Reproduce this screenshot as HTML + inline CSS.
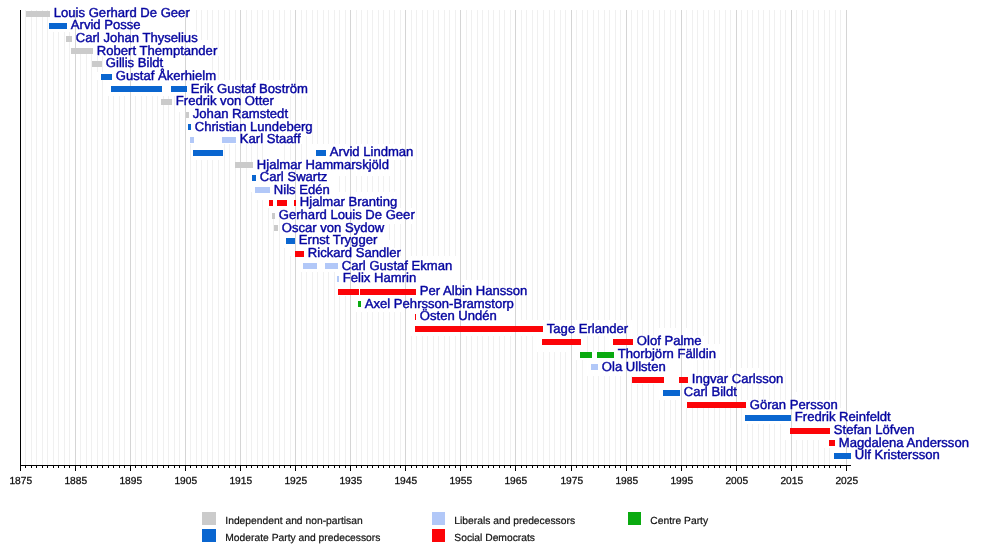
<!DOCTYPE html><html><head><meta charset="utf-8"><title>Prime Ministers of Sweden</title>
<style>html,body{margin:0;padding:0;background:#fff}svg{display:block}text{text-rendering:geometricPrecision;font-family:"Liberation Sans",sans-serif}.n{font-size:13.08px;fill:#0606a0;stroke:#0606a0;stroke-width:0.42px}.a{font-size:10.2px;fill:#0c0c0c;stroke:#0c0c0c;stroke-width:0.25px;text-anchor:middle}.l{font-size:10.3px;fill:#111;stroke:#111;stroke-width:0.2px}</style></head><body>
<svg width="1000" height="545" viewBox="0 0 1000 545" shape-rendering="crispEdges">
<rect width="1000" height="545" fill="#fff"/>
<rect x="25" y="10" width="1" height="455" fill="#f0f0f0"/>
<rect x="31" y="10" width="1" height="455" fill="#f0f0f0"/>
<rect x="36" y="10" width="1" height="455" fill="#f0f0f0"/>
<rect x="42" y="10" width="1" height="455" fill="#f0f0f0"/>
<rect x="47" y="10" width="1" height="455" fill="#f0f0f0"/>
<rect x="53" y="10" width="1" height="455" fill="#f0f0f0"/>
<rect x="58" y="10" width="1" height="455" fill="#f0f0f0"/>
<rect x="64" y="10" width="1" height="455" fill="#f0f0f0"/>
<rect x="69" y="10" width="1" height="455" fill="#f0f0f0"/>
<rect x="80" y="10" width="1" height="455" fill="#f0f0f0"/>
<rect x="86" y="10" width="1" height="455" fill="#f0f0f0"/>
<rect x="91" y="10" width="1" height="455" fill="#f0f0f0"/>
<rect x="97" y="10" width="1" height="455" fill="#f0f0f0"/>
<rect x="102" y="10" width="1" height="455" fill="#f0f0f0"/>
<rect x="108" y="10" width="1" height="455" fill="#f0f0f0"/>
<rect x="113" y="10" width="1" height="455" fill="#f0f0f0"/>
<rect x="119" y="10" width="1" height="455" fill="#f0f0f0"/>
<rect x="124" y="10" width="1" height="455" fill="#f0f0f0"/>
<rect x="135" y="10" width="1" height="455" fill="#f0f0f0"/>
<rect x="141" y="10" width="1" height="455" fill="#f0f0f0"/>
<rect x="146" y="10" width="1" height="455" fill="#f0f0f0"/>
<rect x="152" y="10" width="1" height="455" fill="#f0f0f0"/>
<rect x="157" y="10" width="1" height="455" fill="#f0f0f0"/>
<rect x="163" y="10" width="1" height="455" fill="#f0f0f0"/>
<rect x="168" y="10" width="1" height="455" fill="#f0f0f0"/>
<rect x="174" y="10" width="1" height="455" fill="#f0f0f0"/>
<rect x="179" y="10" width="1" height="455" fill="#f0f0f0"/>
<rect x="190" y="10" width="1" height="455" fill="#f0f0f0"/>
<rect x="196" y="10" width="1" height="455" fill="#f0f0f0"/>
<rect x="201" y="10" width="1" height="455" fill="#f0f0f0"/>
<rect x="207" y="10" width="1" height="455" fill="#f0f0f0"/>
<rect x="212" y="10" width="1" height="455" fill="#f0f0f0"/>
<rect x="218" y="10" width="1" height="455" fill="#f0f0f0"/>
<rect x="224" y="10" width="1" height="455" fill="#f0f0f0"/>
<rect x="229" y="10" width="1" height="455" fill="#f0f0f0"/>
<rect x="235" y="10" width="1" height="455" fill="#f0f0f0"/>
<rect x="246" y="10" width="1" height="455" fill="#f0f0f0"/>
<rect x="251" y="10" width="1" height="455" fill="#f0f0f0"/>
<rect x="257" y="10" width="1" height="455" fill="#f0f0f0"/>
<rect x="262" y="10" width="1" height="455" fill="#f0f0f0"/>
<rect x="268" y="10" width="1" height="455" fill="#f0f0f0"/>
<rect x="273" y="10" width="1" height="455" fill="#f0f0f0"/>
<rect x="279" y="10" width="1" height="455" fill="#f0f0f0"/>
<rect x="284" y="10" width="1" height="455" fill="#f0f0f0"/>
<rect x="290" y="10" width="1" height="455" fill="#f0f0f0"/>
<rect x="301" y="10" width="1" height="455" fill="#f0f0f0"/>
<rect x="306" y="10" width="1" height="455" fill="#f0f0f0"/>
<rect x="312" y="10" width="1" height="455" fill="#f0f0f0"/>
<rect x="317" y="10" width="1" height="455" fill="#f0f0f0"/>
<rect x="323" y="10" width="1" height="455" fill="#f0f0f0"/>
<rect x="328" y="10" width="1" height="455" fill="#f0f0f0"/>
<rect x="334" y="10" width="1" height="455" fill="#f0f0f0"/>
<rect x="339" y="10" width="1" height="455" fill="#f0f0f0"/>
<rect x="345" y="10" width="1" height="455" fill="#f0f0f0"/>
<rect x="356" y="10" width="1" height="455" fill="#f0f0f0"/>
<rect x="361" y="10" width="1" height="455" fill="#f0f0f0"/>
<rect x="367" y="10" width="1" height="455" fill="#f0f0f0"/>
<rect x="372" y="10" width="1" height="455" fill="#f0f0f0"/>
<rect x="378" y="10" width="1" height="455" fill="#f0f0f0"/>
<rect x="383" y="10" width="1" height="455" fill="#f0f0f0"/>
<rect x="389" y="10" width="1" height="455" fill="#f0f0f0"/>
<rect x="394" y="10" width="1" height="455" fill="#f0f0f0"/>
<rect x="400" y="10" width="1" height="455" fill="#f0f0f0"/>
<rect x="411" y="10" width="1" height="455" fill="#f0f0f0"/>
<rect x="416" y="10" width="1" height="455" fill="#f0f0f0"/>
<rect x="422" y="10" width="1" height="455" fill="#f0f0f0"/>
<rect x="427" y="10" width="1" height="455" fill="#f0f0f0"/>
<rect x="433" y="10" width="1" height="455" fill="#f0f0f0"/>
<rect x="438" y="10" width="1" height="455" fill="#f0f0f0"/>
<rect x="444" y="10" width="1" height="455" fill="#f0f0f0"/>
<rect x="449" y="10" width="1" height="455" fill="#f0f0f0"/>
<rect x="455" y="10" width="1" height="455" fill="#f0f0f0"/>
<rect x="466" y="10" width="1" height="455" fill="#f0f0f0"/>
<rect x="471" y="10" width="1" height="455" fill="#f0f0f0"/>
<rect x="477" y="10" width="1" height="455" fill="#f0f0f0"/>
<rect x="482" y="10" width="1" height="455" fill="#f0f0f0"/>
<rect x="488" y="10" width="1" height="455" fill="#f0f0f0"/>
<rect x="493" y="10" width="1" height="455" fill="#f0f0f0"/>
<rect x="499" y="10" width="1" height="455" fill="#f0f0f0"/>
<rect x="504" y="10" width="1" height="455" fill="#f0f0f0"/>
<rect x="510" y="10" width="1" height="455" fill="#f0f0f0"/>
<rect x="521" y="10" width="1" height="455" fill="#f0f0f0"/>
<rect x="526" y="10" width="1" height="455" fill="#f0f0f0"/>
<rect x="532" y="10" width="1" height="455" fill="#f0f0f0"/>
<rect x="537" y="10" width="1" height="455" fill="#f0f0f0"/>
<rect x="543" y="10" width="1" height="455" fill="#f0f0f0"/>
<rect x="549" y="10" width="1" height="455" fill="#f0f0f0"/>
<rect x="554" y="10" width="1" height="455" fill="#f0f0f0"/>
<rect x="560" y="10" width="1" height="455" fill="#f0f0f0"/>
<rect x="565" y="10" width="1" height="455" fill="#f0f0f0"/>
<rect x="576" y="10" width="1" height="455" fill="#f0f0f0"/>
<rect x="582" y="10" width="1" height="455" fill="#f0f0f0"/>
<rect x="587" y="10" width="1" height="455" fill="#f0f0f0"/>
<rect x="593" y="10" width="1" height="455" fill="#f0f0f0"/>
<rect x="598" y="10" width="1" height="455" fill="#f0f0f0"/>
<rect x="604" y="10" width="1" height="455" fill="#f0f0f0"/>
<rect x="609" y="10" width="1" height="455" fill="#f0f0f0"/>
<rect x="615" y="10" width="1" height="455" fill="#f0f0f0"/>
<rect x="620" y="10" width="1" height="455" fill="#f0f0f0"/>
<rect x="631" y="10" width="1" height="455" fill="#f0f0f0"/>
<rect x="637" y="10" width="1" height="455" fill="#f0f0f0"/>
<rect x="642" y="10" width="1" height="455" fill="#f0f0f0"/>
<rect x="648" y="10" width="1" height="455" fill="#f0f0f0"/>
<rect x="653" y="10" width="1" height="455" fill="#f0f0f0"/>
<rect x="659" y="10" width="1" height="455" fill="#f0f0f0"/>
<rect x="664" y="10" width="1" height="455" fill="#f0f0f0"/>
<rect x="670" y="10" width="1" height="455" fill="#f0f0f0"/>
<rect x="675" y="10" width="1" height="455" fill="#f0f0f0"/>
<rect x="686" y="10" width="1" height="455" fill="#f0f0f0"/>
<rect x="692" y="10" width="1" height="455" fill="#f0f0f0"/>
<rect x="697" y="10" width="1" height="455" fill="#f0f0f0"/>
<rect x="703" y="10" width="1" height="455" fill="#f0f0f0"/>
<rect x="708" y="10" width="1" height="455" fill="#f0f0f0"/>
<rect x="714" y="10" width="1" height="455" fill="#f0f0f0"/>
<rect x="719" y="10" width="1" height="455" fill="#f0f0f0"/>
<rect x="725" y="10" width="1" height="455" fill="#f0f0f0"/>
<rect x="730" y="10" width="1" height="455" fill="#f0f0f0"/>
<rect x="741" y="10" width="1" height="455" fill="#f0f0f0"/>
<rect x="747" y="10" width="1" height="455" fill="#f0f0f0"/>
<rect x="752" y="10" width="1" height="455" fill="#f0f0f0"/>
<rect x="758" y="10" width="1" height="455" fill="#f0f0f0"/>
<rect x="763" y="10" width="1" height="455" fill="#f0f0f0"/>
<rect x="769" y="10" width="1" height="455" fill="#f0f0f0"/>
<rect x="774" y="10" width="1" height="455" fill="#f0f0f0"/>
<rect x="780" y="10" width="1" height="455" fill="#f0f0f0"/>
<rect x="785" y="10" width="1" height="455" fill="#f0f0f0"/>
<rect x="796" y="10" width="1" height="455" fill="#f0f0f0"/>
<rect x="802" y="10" width="1" height="455" fill="#f0f0f0"/>
<rect x="807" y="10" width="1" height="455" fill="#f0f0f0"/>
<rect x="813" y="10" width="1" height="455" fill="#f0f0f0"/>
<rect x="818" y="10" width="1" height="455" fill="#f0f0f0"/>
<rect x="824" y="10" width="1" height="455" fill="#f0f0f0"/>
<rect x="829" y="10" width="1" height="455" fill="#f0f0f0"/>
<rect x="835" y="10" width="1" height="455" fill="#f0f0f0"/>
<rect x="840" y="10" width="1" height="455" fill="#f0f0f0"/>
<rect x="48" y="10" width="144" height="6" fill="#fff"/>
<rect x="48" y="16" width="144" height="8" fill="#fff"/>
<rect x="48" y="24" width="144" height="8" fill="#fff"/>
<rect x="72" y="32" width="128" height="8" fill="#fff"/>
<rect x="72" y="40" width="136" height="8" fill="#fff"/>
<rect x="96" y="48" width="128" height="8" fill="#fff"/>
<rect x="104" y="56" width="104" height="8" fill="#fff"/>
<rect x="104" y="64" width="104" height="8" fill="#fff"/>
<rect x="96" y="72" width="120" height="8" fill="#fff"/>
<rect x="104" y="80" width="208" height="8" fill="#fff"/>
<rect x="104" y="88" width="208" height="8" fill="#fff"/>
<rect x="176" y="96" width="112" height="8" fill="#fff"/>
<rect x="176" y="104" width="112" height="8" fill="#fff"/>
<rect x="184" y="112" width="104" height="8" fill="#fff"/>
<rect x="184" y="120" width="128" height="8" fill="#fff"/>
<rect x="184" y="128" width="128" height="8" fill="#fff"/>
<rect x="184" y="136" width="120" height="8" fill="#fff"/>
<rect x="192" y="144" width="32" height="8" fill="#fff"/>
<rect x="264" y="144" width="16" height="8" fill="#fff"/>
<rect x="312" y="144" width="104" height="8" fill="#fff"/>
<rect x="192" y="152" width="32" height="8" fill="#fff"/>
<rect x="264" y="152" width="16" height="8" fill="#fff"/>
<rect x="312" y="152" width="104" height="8" fill="#fff"/>
<rect x="256" y="160" width="136" height="8" fill="#fff"/>
<rect x="248" y="168" width="144" height="8" fill="#fff"/>
<rect x="248" y="176" width="88" height="8" fill="#fff"/>
<rect x="248" y="184" width="88" height="8" fill="#fff"/>
<rect x="256" y="192" width="144" height="8" fill="#fff"/>
<rect x="264" y="200" width="136" height="8" fill="#fff"/>
<rect x="272" y="208" width="144" height="8" fill="#fff"/>
<rect x="280" y="216" width="136" height="8" fill="#fff"/>
<rect x="280" y="224" width="104" height="8" fill="#fff"/>
<rect x="280" y="232" width="104" height="8" fill="#fff"/>
<rect x="280" y="240" width="112" height="8" fill="#fff"/>
<rect x="288" y="248" width="112" height="8" fill="#fff"/>
<rect x="296" y="256" width="160" height="8" fill="#fff"/>
<rect x="296" y="264" width="160" height="8" fill="#fff"/>
<rect x="336" y="272" width="120" height="8" fill="#fff"/>
<rect x="336" y="280" width="152" height="8" fill="#fff"/>
<rect x="336" y="288" width="192" height="8" fill="#fff"/>
<rect x="352" y="296" width="168" height="8" fill="#fff"/>
<rect x="352" y="304" width="168" height="8" fill="#fff"/>
<rect x="408" y="312" width="112" height="8" fill="#fff"/>
<rect x="408" y="320" width="224" height="8" fill="#fff"/>
<rect x="408" y="328" width="224" height="8" fill="#fff"/>
<rect x="656" y="328" width="32" height="8" fill="#fff"/>
<rect x="536" y="336" width="48" height="8" fill="#fff"/>
<rect x="608" y="336" width="96" height="8" fill="#fff"/>
<rect x="536" y="344" width="48" height="8" fill="#fff"/>
<rect x="608" y="344" width="112" height="8" fill="#fff"/>
<rect x="576" y="352" width="144" height="8" fill="#fff"/>
<rect x="584" y="360" width="112" height="8" fill="#fff"/>
<rect x="584" y="368" width="112" height="8" fill="#fff"/>
<rect x="728" y="368" width="32" height="8" fill="#fff"/>
<rect x="632" y="376" width="152" height="8" fill="#fff"/>
<rect x="656" y="384" width="80" height="8" fill="#fff"/>
<rect x="656" y="392" width="80" height="8" fill="#fff"/>
<rect x="792" y="392" width="8" height="8" fill="#fff"/>
<rect x="680" y="400" width="160" height="8" fill="#fff"/>
<rect x="744" y="408" width="107" height="8" fill="#fff"/>
<rect x="744" y="416" width="107" height="8" fill="#fff"/>
<rect x="784" y="424" width="67" height="8" fill="#fff"/>
<rect x="784" y="432" width="67" height="8" fill="#fff"/>
<rect x="824" y="440" width="27" height="8" fill="#fff"/>
<rect x="832" y="448" width="19" height="8" fill="#fff"/>
<rect x="832" y="456" width="19" height="8" fill="#fff"/>
<rect x="75" y="10" width="1" height="455" fill="#d5d5d5"/>
<rect x="130" y="10" width="1" height="455" fill="#d5d5d5"/>
<rect x="185" y="10" width="1" height="455" fill="#d5d5d5"/>
<rect x="240" y="10" width="1" height="455" fill="#d5d5d5"/>
<rect x="295" y="10" width="1" height="455" fill="#d5d5d5"/>
<rect x="350" y="10" width="1" height="455" fill="#d5d5d5"/>
<rect x="405" y="10" width="1" height="455" fill="#d5d5d5"/>
<rect x="460" y="10" width="1" height="455" fill="#d5d5d5"/>
<rect x="515" y="10" width="1" height="455" fill="#d5d5d5"/>
<rect x="571" y="10" width="1" height="455" fill="#d5d5d5"/>
<rect x="626" y="10" width="1" height="455" fill="#d5d5d5"/>
<rect x="681" y="10" width="1" height="455" fill="#d5d5d5"/>
<rect x="736" y="10" width="1" height="455" fill="#d5d5d5"/>
<rect x="791" y="10" width="1" height="455" fill="#d5d5d5"/>
<rect x="846" y="10" width="1" height="455" fill="#d5d5d5"/>
<rect x="26" y="11" width="24" height="6" fill="#cbcbcb"/>
<text class="n" x="53.80" y="17">Louis Gerhard De Geer</text>
<rect x="49" y="23" width="18" height="6" fill="#0a66d0"/>
<text class="n" x="70.80" y="29">Arvid Posse</text>
<rect x="66" y="36" width="6" height="6" fill="#cbcbcb"/>
<text class="n" x="75.80" y="42">Carl Johan Thyselius</text>
<rect x="71" y="48" width="22" height="6" fill="#cbcbcb"/>
<text class="n" x="96.80" y="55">Robert Themptander</text>
<rect x="92" y="61" width="10" height="6" fill="#cbcbcb"/>
<text class="n" x="105.80" y="67">Gillis Bildt</text>
<rect x="101" y="74" width="11" height="6" fill="#0a66d0"/>
<text class="n" x="115.80" y="80">Gustaf Åkerhielm</text>
<rect x="111" y="86" width="51" height="6" fill="#0a66d0"/>
<rect x="171" y="86" width="16" height="6" fill="#0a66d0"/>
<text class="n" x="190.80" y="93">Erik Gustaf Boström</text>
<rect x="161" y="99" width="11" height="6" fill="#cbcbcb"/>
<text class="n" x="175.80" y="105">Fredrik von Otter</text>
<rect x="186" y="112" width="3" height="6" fill="#cbcbcb"/>
<text class="n" x="192.80" y="118">Johan Ramstedt</text>
<rect x="188" y="124" width="3" height="6" fill="#0a66d0"/>
<text class="n" x="194.80" y="131">Christian Lundeberg</text>
<rect x="190" y="137" width="4" height="6" fill="#b2c8f8"/>
<rect x="222" y="137" width="14" height="6" fill="#b2c8f8"/>
<text class="n" x="239.80" y="143">Karl Staaff</text>
<rect x="193" y="150" width="30" height="6" fill="#0a66d0"/>
<rect x="316" y="150" width="10" height="6" fill="#0a66d0"/>
<text class="n" x="329.80" y="156">Arvid Lindman</text>
<rect x="235" y="162" width="18" height="6" fill="#cbcbcb"/>
<text class="n" x="256.80" y="169">Hjalmar Hammarskjöld</text>
<rect x="252" y="175" width="4" height="6" fill="#0a66d0"/>
<text class="n" x="259.80" y="181">Carl Swartz</text>
<rect x="255" y="187" width="15" height="6" fill="#b2c8f8"/>
<text class="n" x="273.80" y="194">Nils Edén</text>
<rect x="269" y="200" width="4" height="6" fill="#fc0408"/>
<rect x="277" y="200" width="10" height="6" fill="#fc0408"/>
<rect x="294" y="200" width="2" height="6" fill="#fc0408"/>
<text class="n" x="299.80" y="206">Hjalmar Branting</text>
<rect x="272" y="213" width="3" height="6" fill="#cbcbcb"/>
<text class="n" x="278.80" y="219">Gerhard Louis De Geer</text>
<rect x="274" y="225" width="4" height="6" fill="#cbcbcb"/>
<text class="n" x="281.80" y="232">Oscar von Sydow</text>
<rect x="286" y="238" width="9" height="6" fill="#0a66d0"/>
<text class="n" x="298.80" y="244">Ernst Trygger</text>
<rect x="295" y="251" width="9" height="6" fill="#fc0408"/>
<text class="n" x="307.80" y="257">Rickard Sandler</text>
<rect x="303" y="263" width="14" height="6" fill="#b2c8f8"/>
<rect x="325" y="263" width="13" height="6" fill="#b2c8f8"/>
<text class="n" x="341.80" y="270">Carl Gustaf Ekman</text>
<rect x="337" y="276" width="2" height="6" fill="#b2c8f8"/>
<text class="n" x="342.80" y="282">Felix Hamrin</text>
<rect x="338" y="289" width="21" height="6" fill="#fc0408"/>
<rect x="360" y="289" width="56" height="6" fill="#fc0408"/>
<text class="n" x="419.80" y="295">Per Albin Hansson</text>
<rect x="358" y="301" width="3" height="6" fill="#0aaa10"/>
<text class="n" x="364.80" y="308">Axel Pehrsson-Bramstorp</text>
<rect x="415" y="314" width="1" height="6" fill="#fc0408"/>
<text class="n" x="419.80" y="320">Östen Undén</text>
<rect x="415" y="326" width="128" height="6" fill="#fc0408"/>
<text class="n" x="546.80" y="333">Tage Erlander</text>
<rect x="542" y="339" width="39" height="6" fill="#fc0408"/>
<rect x="613" y="339" width="20" height="6" fill="#fc0408"/>
<text class="n" x="636.80" y="345">Olof Palme</text>
<rect x="580" y="352" width="12" height="6" fill="#0aaa10"/>
<rect x="597" y="352" width="17" height="6" fill="#0aaa10"/>
<text class="n" x="617.80" y="358">Thorbjörn Fälldin</text>
<rect x="591" y="364" width="7" height="6" fill="#b2c8f8"/>
<text class="n" x="601.80" y="371">Ola Ullsten</text>
<rect x="632" y="377" width="32" height="6" fill="#fc0408"/>
<rect x="679" y="377" width="9" height="6" fill="#fc0408"/>
<text class="n" x="691.80" y="383">Ingvar Carlsson</text>
<rect x="663" y="390" width="17" height="6" fill="#0a66d0"/>
<text class="n" x="683.80" y="396">Carl Bildt</text>
<rect x="687" y="402" width="59" height="6" fill="#fc0408"/>
<text class="n" x="749.80" y="409">Göran Persson</text>
<rect x="745" y="415" width="46" height="6" fill="#0a66d0"/>
<text class="n" x="794.80" y="421">Fredrik Reinfeldt</text>
<rect x="790" y="428" width="40" height="6" fill="#fc0408"/>
<text class="n" x="833.80" y="434">Stefan Löfven</text>
<rect x="829" y="440" width="6" height="6" fill="#fc0408"/>
<text class="n" x="838.80" y="447">Magdalena Andersson</text>
<rect x="834" y="453" width="17" height="6" fill="#0a66d0"/>
<text class="n" x="854.80" y="459">Ulf Kristersson</text>
<rect x="20" y="10" width="1" height="461" fill="#000"/>
<rect x="20" y="465" width="831" height="1" fill="#000"/>
<rect x="20" y="465" width="1" height="6" fill="#000"/>
<text class="a" x="20.8" y="483.5">1875</text>
<rect x="25" y="465" width="1" height="3" fill="#000"/>
<rect x="31" y="465" width="1" height="3" fill="#000"/>
<rect x="36" y="465" width="1" height="3" fill="#000"/>
<rect x="42" y="465" width="1" height="3" fill="#000"/>
<rect x="47" y="465" width="1" height="3" fill="#000"/>
<rect x="53" y="465" width="1" height="3" fill="#000"/>
<rect x="58" y="465" width="1" height="3" fill="#000"/>
<rect x="64" y="465" width="1" height="3" fill="#000"/>
<rect x="69" y="465" width="1" height="3" fill="#000"/>
<rect x="75" y="465" width="1" height="6" fill="#000"/>
<text class="a" x="75.8" y="483.5">1885</text>
<rect x="80" y="465" width="1" height="3" fill="#000"/>
<rect x="86" y="465" width="1" height="3" fill="#000"/>
<rect x="91" y="465" width="1" height="3" fill="#000"/>
<rect x="97" y="465" width="1" height="3" fill="#000"/>
<rect x="102" y="465" width="1" height="3" fill="#000"/>
<rect x="108" y="465" width="1" height="3" fill="#000"/>
<rect x="113" y="465" width="1" height="3" fill="#000"/>
<rect x="119" y="465" width="1" height="3" fill="#000"/>
<rect x="124" y="465" width="1" height="3" fill="#000"/>
<rect x="130" y="465" width="1" height="6" fill="#000"/>
<text class="a" x="130.8" y="483.5">1895</text>
<rect x="135" y="465" width="1" height="3" fill="#000"/>
<rect x="141" y="465" width="1" height="3" fill="#000"/>
<rect x="146" y="465" width="1" height="3" fill="#000"/>
<rect x="152" y="465" width="1" height="3" fill="#000"/>
<rect x="157" y="465" width="1" height="3" fill="#000"/>
<rect x="163" y="465" width="1" height="3" fill="#000"/>
<rect x="168" y="465" width="1" height="3" fill="#000"/>
<rect x="174" y="465" width="1" height="3" fill="#000"/>
<rect x="179" y="465" width="1" height="3" fill="#000"/>
<rect x="185" y="465" width="1" height="6" fill="#000"/>
<text class="a" x="185.8" y="483.5">1905</text>
<rect x="190" y="465" width="1" height="3" fill="#000"/>
<rect x="196" y="465" width="1" height="3" fill="#000"/>
<rect x="201" y="465" width="1" height="3" fill="#000"/>
<rect x="207" y="465" width="1" height="3" fill="#000"/>
<rect x="212" y="465" width="1" height="3" fill="#000"/>
<rect x="218" y="465" width="1" height="3" fill="#000"/>
<rect x="224" y="465" width="1" height="3" fill="#000"/>
<rect x="229" y="465" width="1" height="3" fill="#000"/>
<rect x="235" y="465" width="1" height="3" fill="#000"/>
<rect x="240" y="465" width="1" height="6" fill="#000"/>
<text class="a" x="240.8" y="483.5">1915</text>
<rect x="246" y="465" width="1" height="3" fill="#000"/>
<rect x="251" y="465" width="1" height="3" fill="#000"/>
<rect x="257" y="465" width="1" height="3" fill="#000"/>
<rect x="262" y="465" width="1" height="3" fill="#000"/>
<rect x="268" y="465" width="1" height="3" fill="#000"/>
<rect x="273" y="465" width="1" height="3" fill="#000"/>
<rect x="279" y="465" width="1" height="3" fill="#000"/>
<rect x="284" y="465" width="1" height="3" fill="#000"/>
<rect x="290" y="465" width="1" height="3" fill="#000"/>
<rect x="295" y="465" width="1" height="6" fill="#000"/>
<text class="a" x="295.8" y="483.5">1925</text>
<rect x="301" y="465" width="1" height="3" fill="#000"/>
<rect x="306" y="465" width="1" height="3" fill="#000"/>
<rect x="312" y="465" width="1" height="3" fill="#000"/>
<rect x="317" y="465" width="1" height="3" fill="#000"/>
<rect x="323" y="465" width="1" height="3" fill="#000"/>
<rect x="328" y="465" width="1" height="3" fill="#000"/>
<rect x="334" y="465" width="1" height="3" fill="#000"/>
<rect x="339" y="465" width="1" height="3" fill="#000"/>
<rect x="345" y="465" width="1" height="3" fill="#000"/>
<rect x="350" y="465" width="1" height="6" fill="#000"/>
<text class="a" x="350.8" y="483.5">1935</text>
<rect x="356" y="465" width="1" height="3" fill="#000"/>
<rect x="361" y="465" width="1" height="3" fill="#000"/>
<rect x="367" y="465" width="1" height="3" fill="#000"/>
<rect x="372" y="465" width="1" height="3" fill="#000"/>
<rect x="378" y="465" width="1" height="3" fill="#000"/>
<rect x="383" y="465" width="1" height="3" fill="#000"/>
<rect x="389" y="465" width="1" height="3" fill="#000"/>
<rect x="394" y="465" width="1" height="3" fill="#000"/>
<rect x="400" y="465" width="1" height="3" fill="#000"/>
<rect x="405" y="465" width="1" height="6" fill="#000"/>
<text class="a" x="405.8" y="483.5">1945</text>
<rect x="411" y="465" width="1" height="3" fill="#000"/>
<rect x="416" y="465" width="1" height="3" fill="#000"/>
<rect x="422" y="465" width="1" height="3" fill="#000"/>
<rect x="427" y="465" width="1" height="3" fill="#000"/>
<rect x="433" y="465" width="1" height="3" fill="#000"/>
<rect x="438" y="465" width="1" height="3" fill="#000"/>
<rect x="444" y="465" width="1" height="3" fill="#000"/>
<rect x="449" y="465" width="1" height="3" fill="#000"/>
<rect x="455" y="465" width="1" height="3" fill="#000"/>
<rect x="460" y="465" width="1" height="6" fill="#000"/>
<text class="a" x="460.8" y="483.5">1955</text>
<rect x="466" y="465" width="1" height="3" fill="#000"/>
<rect x="471" y="465" width="1" height="3" fill="#000"/>
<rect x="477" y="465" width="1" height="3" fill="#000"/>
<rect x="482" y="465" width="1" height="3" fill="#000"/>
<rect x="488" y="465" width="1" height="3" fill="#000"/>
<rect x="493" y="465" width="1" height="3" fill="#000"/>
<rect x="499" y="465" width="1" height="3" fill="#000"/>
<rect x="504" y="465" width="1" height="3" fill="#000"/>
<rect x="510" y="465" width="1" height="3" fill="#000"/>
<rect x="515" y="465" width="1" height="6" fill="#000"/>
<text class="a" x="515.8" y="483.5">1965</text>
<rect x="521" y="465" width="1" height="3" fill="#000"/>
<rect x="526" y="465" width="1" height="3" fill="#000"/>
<rect x="532" y="465" width="1" height="3" fill="#000"/>
<rect x="537" y="465" width="1" height="3" fill="#000"/>
<rect x="543" y="465" width="1" height="3" fill="#000"/>
<rect x="549" y="465" width="1" height="3" fill="#000"/>
<rect x="554" y="465" width="1" height="3" fill="#000"/>
<rect x="560" y="465" width="1" height="3" fill="#000"/>
<rect x="565" y="465" width="1" height="3" fill="#000"/>
<rect x="571" y="465" width="1" height="6" fill="#000"/>
<text class="a" x="571.8" y="483.5">1975</text>
<rect x="576" y="465" width="1" height="3" fill="#000"/>
<rect x="582" y="465" width="1" height="3" fill="#000"/>
<rect x="587" y="465" width="1" height="3" fill="#000"/>
<rect x="593" y="465" width="1" height="3" fill="#000"/>
<rect x="598" y="465" width="1" height="3" fill="#000"/>
<rect x="604" y="465" width="1" height="3" fill="#000"/>
<rect x="609" y="465" width="1" height="3" fill="#000"/>
<rect x="615" y="465" width="1" height="3" fill="#000"/>
<rect x="620" y="465" width="1" height="3" fill="#000"/>
<rect x="626" y="465" width="1" height="6" fill="#000"/>
<text class="a" x="626.8" y="483.5">1985</text>
<rect x="631" y="465" width="1" height="3" fill="#000"/>
<rect x="637" y="465" width="1" height="3" fill="#000"/>
<rect x="642" y="465" width="1" height="3" fill="#000"/>
<rect x="648" y="465" width="1" height="3" fill="#000"/>
<rect x="653" y="465" width="1" height="3" fill="#000"/>
<rect x="659" y="465" width="1" height="3" fill="#000"/>
<rect x="664" y="465" width="1" height="3" fill="#000"/>
<rect x="670" y="465" width="1" height="3" fill="#000"/>
<rect x="675" y="465" width="1" height="3" fill="#000"/>
<rect x="681" y="465" width="1" height="6" fill="#000"/>
<text class="a" x="681.8" y="483.5">1995</text>
<rect x="686" y="465" width="1" height="3" fill="#000"/>
<rect x="692" y="465" width="1" height="3" fill="#000"/>
<rect x="697" y="465" width="1" height="3" fill="#000"/>
<rect x="703" y="465" width="1" height="3" fill="#000"/>
<rect x="708" y="465" width="1" height="3" fill="#000"/>
<rect x="714" y="465" width="1" height="3" fill="#000"/>
<rect x="719" y="465" width="1" height="3" fill="#000"/>
<rect x="725" y="465" width="1" height="3" fill="#000"/>
<rect x="730" y="465" width="1" height="3" fill="#000"/>
<rect x="736" y="465" width="1" height="6" fill="#000"/>
<text class="a" x="736.8" y="483.5">2005</text>
<rect x="741" y="465" width="1" height="3" fill="#000"/>
<rect x="747" y="465" width="1" height="3" fill="#000"/>
<rect x="752" y="465" width="1" height="3" fill="#000"/>
<rect x="758" y="465" width="1" height="3" fill="#000"/>
<rect x="763" y="465" width="1" height="3" fill="#000"/>
<rect x="769" y="465" width="1" height="3" fill="#000"/>
<rect x="774" y="465" width="1" height="3" fill="#000"/>
<rect x="780" y="465" width="1" height="3" fill="#000"/>
<rect x="785" y="465" width="1" height="3" fill="#000"/>
<rect x="791" y="465" width="1" height="6" fill="#000"/>
<text class="a" x="791.8" y="483.5">2015</text>
<rect x="796" y="465" width="1" height="3" fill="#000"/>
<rect x="802" y="465" width="1" height="3" fill="#000"/>
<rect x="807" y="465" width="1" height="3" fill="#000"/>
<rect x="813" y="465" width="1" height="3" fill="#000"/>
<rect x="818" y="465" width="1" height="3" fill="#000"/>
<rect x="824" y="465" width="1" height="3" fill="#000"/>
<rect x="829" y="465" width="1" height="3" fill="#000"/>
<rect x="835" y="465" width="1" height="3" fill="#000"/>
<rect x="840" y="465" width="1" height="3" fill="#000"/>
<rect x="846" y="465" width="1" height="6" fill="#000"/>
<text class="a" x="846.8" y="483.5">2025</text>
<rect x="202" y="512" width="14" height="13" fill="#cbcbcb"/>
<text class="l" x="225.3" y="523.8">Independent and non-partisan</text>
<rect x="202" y="529" width="14" height="13" fill="#0a66d0"/>
<text class="l" x="225.3" y="540.8">Moderate Party and predecessors</text>
<rect x="432" y="512" width="13" height="13" fill="#b2c8f8"/>
<text class="l" x="454.3" y="523.8">Liberals and predecessors</text>
<rect x="432" y="529" width="13" height="13" fill="#fc0408"/>
<text class="l" x="454.3" y="540.8">Social Democrats</text>
<rect x="628" y="512" width="13" height="13" fill="#0aaa10"/>
<text class="l" x="650.3" y="523.8">Centre Party</text>
</svg></body></html>
